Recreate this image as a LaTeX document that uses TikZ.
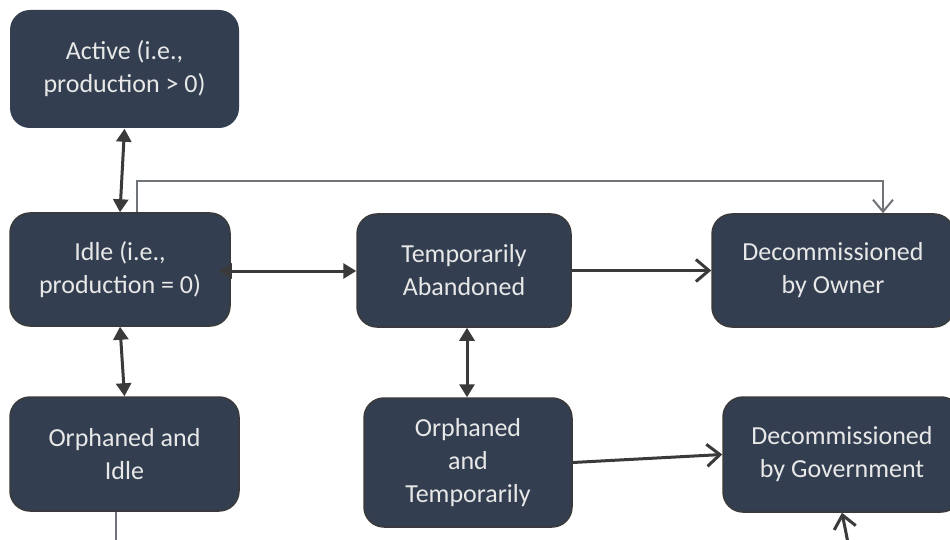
\documentclass[tikz,border=0pt]{standalone}
\usepackage{fontspec}
\setmainfont{Carlito}
\usetikzlibrary{arrows.meta,calc}
\definecolor{boxfill}{HTML}{333F50}
\definecolor{boxline}{HTML}{3A3A3A}
\definecolor{boxtext}{HTML}{E8E8E8}
\definecolor{arrowc}{HTML}{3A3A3A}
\definecolor{thinc}{HTML}{707478}
\tikzset{
  state/.style={rectangle, rounded corners=20pt, fill=boxfill, draw=boxline, line width=1.5pt,
    text=boxtext, align=center, inner sep=0pt,
    font=\fontsize{26pt}{33pt}\selectfont},
  dbl/.style={draw=arrowc, line width=3pt, {Triangle[length=13pt,width=15pt]}-{Triangle[length=13pt,width=15pt]}},
  open/.style={draw=arrowc, line width=3pt, -{Straight Barb[length=13pt,width=22pt]}},
  thinline/.style={draw=thinc, line width=2pt},
}
\begin{document}
\begin{tikzpicture}[x=1pt,y=-1pt]
\useasboundingbox (0,0) rectangle (950,540);
\clip (0,0) rectangle (950,540);
\fill[white] (0,0) rectangle (950,540);
\node[state, draw=none, minimum width=229pt, minimum height=118pt] (act) at (124.5,69) {Active (i.e.,\\production > 0)};
\node[state, minimum width=220pt, minimum height=113pt] (idle) at (120,269.5) {Idle (i.e.,\\production = 0)};
\node[state, minimum width=229pt, minimum height=114pt] (oidle) at (124.5,454) {Orphaned and\\Idle};
\node[state, minimum width=214pt, minimum height=113pt] (temp) at (464,270.5) {Temporarily\\Abandoned};
\node[state, minimum width=208pt, minimum height=129pt] (otemp) at (468,462.5) {Orphaned\\and\\Temporarily};
\node[state, minimum width=242pt, minimum height=113pt] (down) at (833,270.5) {Decommissioned\\by Owner};
\node[state, minimum width=238pt, minimum height=115pt] (dgov) at (842,454.5) {Decommissioned\\by Government};
\coordinate (oidleend) at (116,548);
\coordinate (dgovsrc) at (849,548);
% connectors
\draw[dbl] (act.south) -- (idle.north);
\draw[dbl] ($(idle.east)+(-12,1.5)$) -- ($(temp.west)+(0,0.5)$);
\draw[dbl] (idle.south) -- (oidle.north);
\draw[dbl] ($(temp.south)+(3,0)$) -- ($(otemp.north)+(-1,0)$);
\draw[open] (temp.east) -- (down.west);
\draw[open] (otemp.east) -- (dgov.west);
\draw[thinline, -{Straight Barb[length=12pt,width=20pt]}] ($(idle.north)+(17,0)$) |- ($(down.north)+(50,-32)$) -- ($(down.north)+(50,0)$);
\draw[thinline] ($(oidle.south)+(-8.5,0)$) -- (oidleend);
\draw[open] (dgovsrc) -- (dgov.south);
\end{tikzpicture}
\end{document}
